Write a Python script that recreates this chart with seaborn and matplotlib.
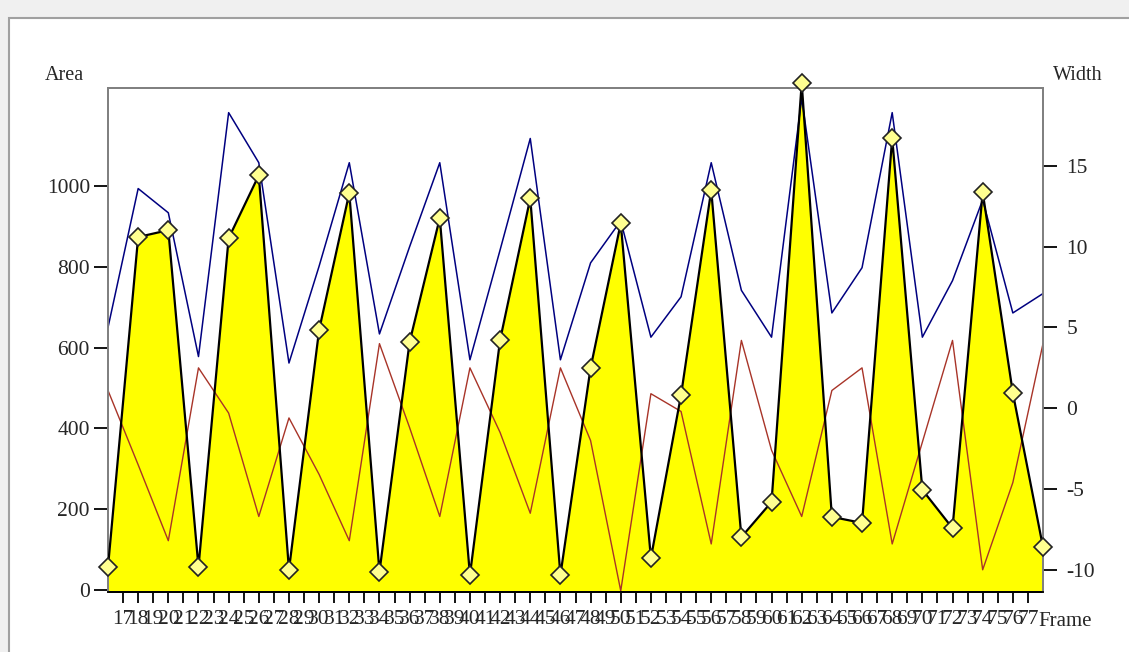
import numpy as np
import pandas as pd
import matplotlib.pyplot as plt
import seaborn as sns
from matplotlib.patches import Rectangle

# Data (one point every second frame)
frames = list(range(16, 80, 2))
area = [57, 874, 891, 57, 871, 1027, 50, 644, 983, 45,
        614, 921, 37, 619, 970, 37, 550, 908, 79, 483,
        990, 131, 218, 1255, 181, 166, 1119, 248, 153, 985,
        488, 106]
width_blue = [5.0, 13.6, 12.1, 3.2, 18.3, 15.2, 2.8, 8.8, 15.2, 4.6,
              10.0, 15.2, 3.0, 9.8, 16.7, 3.0, 9.0, 11.6, 4.4, 6.9,
              15.2, 7.3, 4.4, 19.2, 5.9, 8.7, 18.3, 4.4, 7.9, 12.9,
              5.9, 7.1]
width_red = [1.1, -3.5, -8.2, 2.5, -0.3, -6.7, -0.6, -4.1, -8.2, 4.0,
             -1.2, -6.7, 2.5, -1.5, -6.5, 2.5, -2.0, -11.3, 0.9, -0.2,
             -8.4, 4.2, -2.6, -6.7, 1.1, 2.5, -8.4, -2.1, 4.2, -10.0,
             -4.6, 4.0]
x_ticks = list(range(17, 78))
area_ticks = [0, 200, 400, 600, 800, 1000]
width_ticks = [-10, -5, 0, 5, 10, 15]

sns.set_style('white')
plt.rcParams['font.family'] = ['Liberation Serif', 'DejaVu Serif']

W, H = 1129, 652
fig = plt.figure(figsize=(W / 100, H / 100), dpi=100, facecolor='#f0f0f0')
# white panel with a grey border, like the original control
fig.patches.append(Rectangle((9 / W, -0.01), 1.0, (H - 18) / H + 0.01,
                             transform=fig.transFigure, facecolor='white',
                             edgecolor='#a0a0a0', lw=1.5, zorder=-1))

ax = fig.add_axes([108 / W, 60 / H, 935 / W, 504 / H])
ax.set_facecolor('white')
ax.fill_between(frames, area, -50, color='#ffff00', lw=0, zorder=1)

ax2 = ax.twinx()
sns.lineplot(x=frames, y=width_blue, ax=ax2, color='#000080', lw=1.1, sort=False)
sns.lineplot(x=frames, y=width_red, ax=ax2, color='#a83428', lw=1.0, sort=False)

# area outline + markers drawn on top of the width lines
ax2.plot(frames, area, color='black', lw=1.6, transform=ax.transData, zorder=3)
ax2.plot(frames, area, ls='none', marker='D', ms=9, mfc='#ffff90', mec='#222222',
         mew=1.2, transform=ax.transData, clip_on=False, zorder=4)

ax.set_xlim(16, 78)
ax.set_ylim(-5, 1243)
ax2.set_ylim((-5 - 450) / 40, (1243 - 450) / 40)

ax.set_xticks(x_ticks)
ax.set_xticklabels([str(v) for v in x_ticks])
ax.set_yticks(area_ticks)
ax.set_yticklabels([str(v) for v in area_ticks])
ax2.set_yticks(width_ticks)
ax2.set_yticklabels([str(v) for v in width_ticks])

ax.tick_params(axis='x', direction='out', length=8, width=1.3, color='black',
               labelsize=15.5, pad=5, bottom=True)
ax.tick_params(axis='y', direction='out', length=10, width=1.3, color='black',
               labelsize=15.5, pad=3, left=True)
ax2.tick_params(axis='y', direction='out', length=10, width=1.3, color='black',
                labelsize=15.5, pad=7, right=True)

for a in (ax, ax2):
    for name, sp in a.spines.items():
        sp.set_visible(True)
        sp.set_color('#808080')
        sp.set_linewidth(1.3)
    a.spines['bottom'].set_color('black')
    a.set_xlabel('')
    a.set_ylabel('')

fig.text(45 / W, 1 - 75 / H, 'Area', fontsize=14.5, va='center', ha='left')
fig.text(1053 / W, 1 - 75 / H, 'Width', fontsize=14.5, va='center', ha='left')
fig.text(1038 / W, 1 - 621 / H, 'Frame', fontsize=15, va='center', ha='left')

fig.savefig('out.png', dpi=100, facecolor=fig.get_facecolor())
